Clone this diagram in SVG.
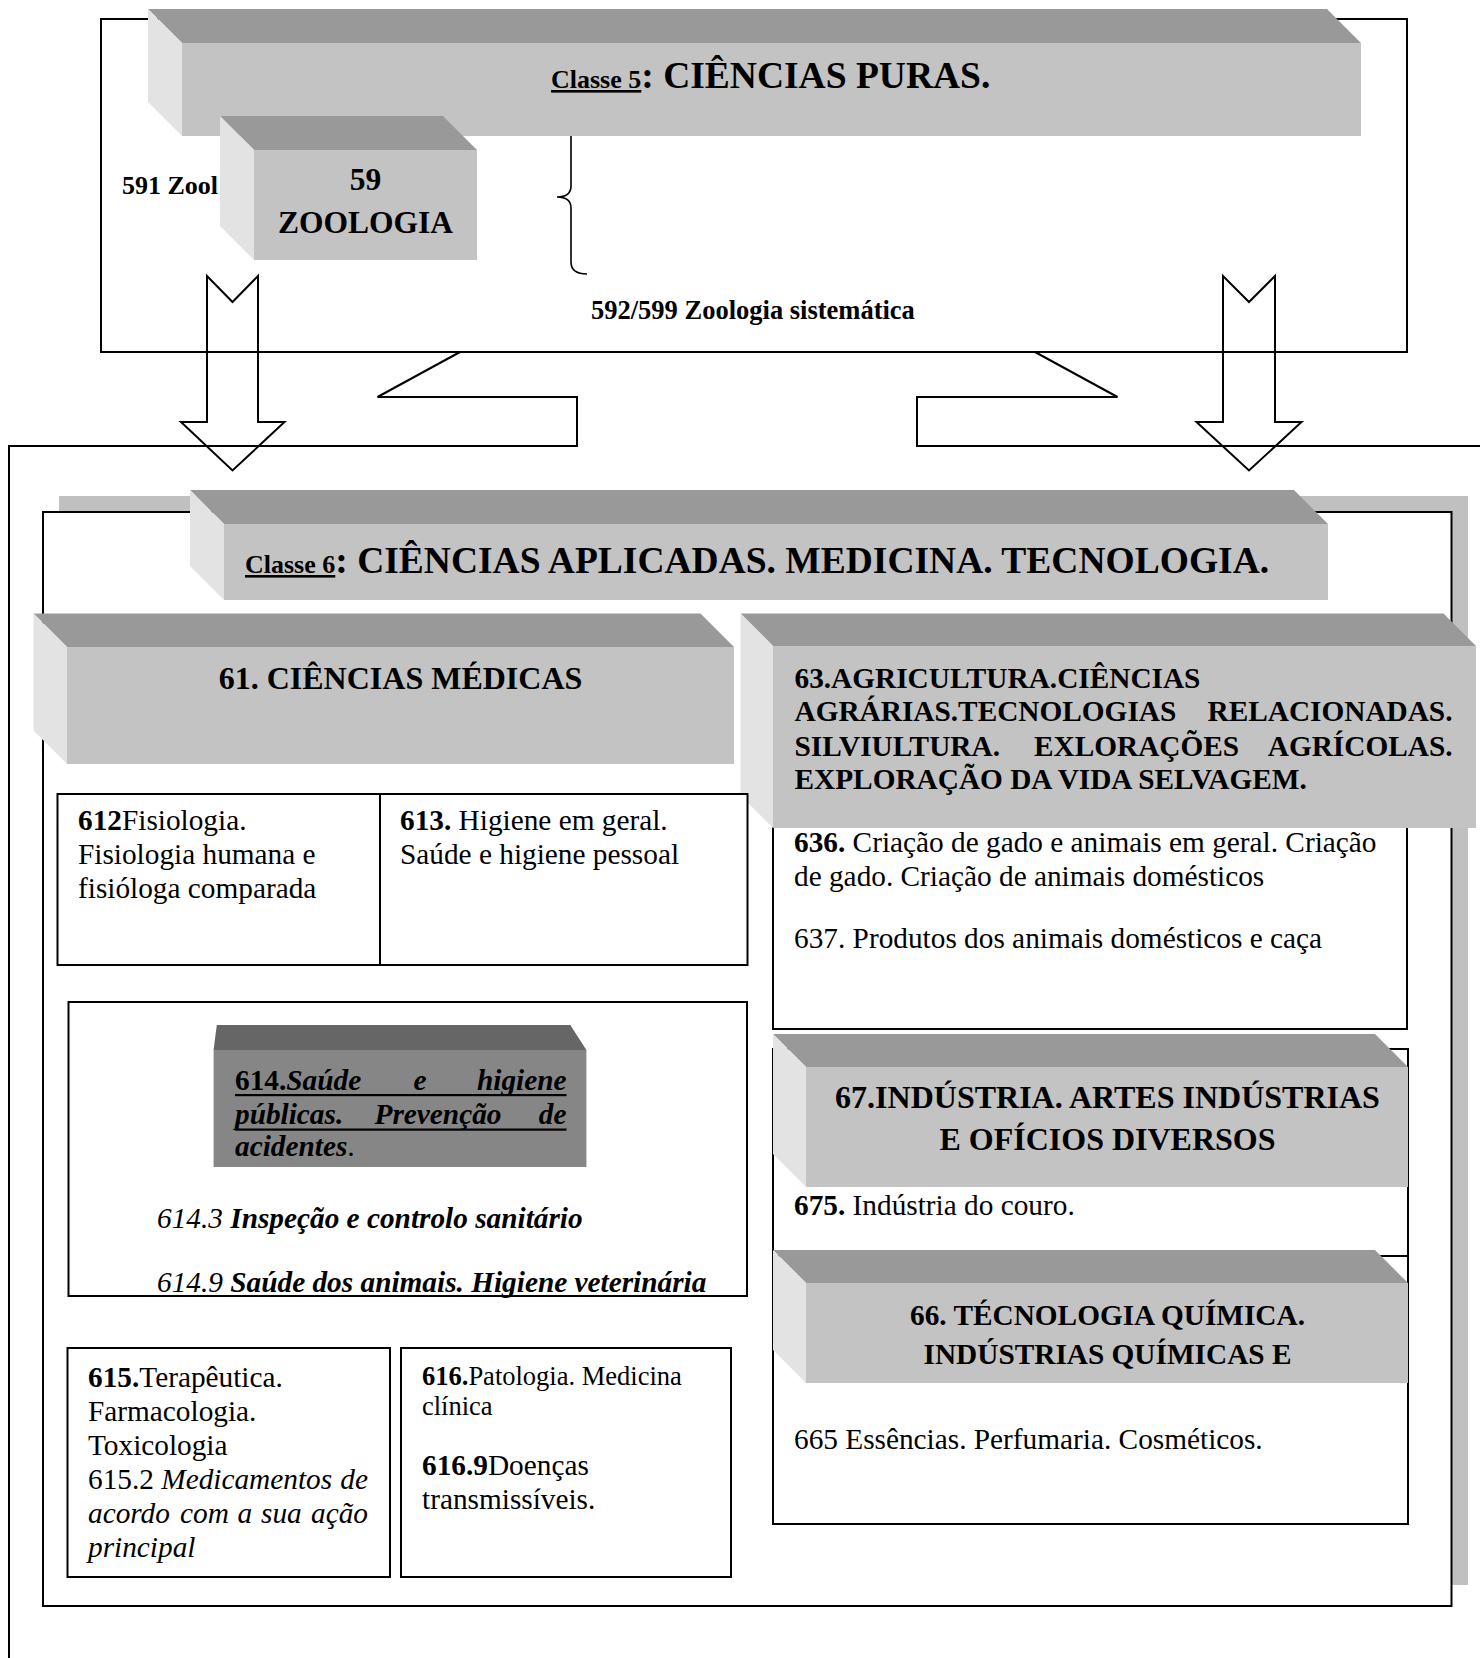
<svg xmlns="http://www.w3.org/2000/svg" width="1480" height="1658" viewBox="0 0 1480 1658">
<style>
  .ln{fill:none;stroke:#000;stroke-width:2}
  .box{fill:#fff;stroke:#000;stroke-width:2}
  .arrow{fill:none;stroke:#000;stroke-width:2;stroke-linejoin:miter}
  .top{fill:#999}
  .front{fill:#c3c3c3}
  .side{fill:#e3e3e3}
  .dtop{fill:#666}
  .dfront{fill:#868686}
  .shadow{fill:#c0c0c0}
  text{font-family:"Liberation Serif","Times New Roman",serif;fill:#000}
  .b{font-weight:bold}
  .i{font-style:italic}
  .n{font-weight:normal}
  .up{font-style:normal}
  .u{text-decoration:underline}
  .s26{font-size:26px}
  .s29{font-size:29.3px}
  .s32{font-size:32px}
  .s37{font-size:37.5px}
  .s31{font-size:31.5px}
  .s265{font-size:26.5px}
</style>

<!-- outer frame of class 6 and the bent links into the class 5 frame -->
<g id="connectors">
  <path class="ln" d="M9,1660 V446 H577 V397 H377.5 L460,352"/>
  <path class="ln" d="M1035,352 L1117.5,397 H917 V446 H1482"/>
  <polygon class="arrow" points="207,276 232.5,302 258,276 258,422 284.5,422 232.5,470.5 181,422 207,422"/>
  <polygon class="arrow" points="1223,276 1249,302 1275,276 1275,422 1301.5,422 1249,470.5 1196.5,422 1223,422"/>
</g>

<!-- class 5 frame -->
<g id="classe5-frame">
  <rect class="ln" x="101" y="19" width="1306" height="333"/>
  <path fill="none" stroke="#000" stroke-width="1.6" d="M587,118 C576,118 571,124 571,134 L571,186 C571,193 566,197 557,197 C566,197 571,201 571,208 L571,262 C571,270 576,274 587,274"/>
</g>

<g id="classe5">
  <polygon class="top" points="148,9 1327,9 1361,43 182,43"/>
  <polygon class="side" points="148,9 182,43 182,136 148,102"/>
  <rect class="front" x="182" y="43" width="1179" height="93"/>
  <text x="551" y="88" class="b"><tspan class="s26 u">Classe 5</tspan><tspan class="s37">: CIÊNCIAS PURAS.</tspan></text>
</g>

<g id="zoologia">
  <polygon class="top" points="220,116 443,116 477,150 254,150"/>
  <polygon class="side" points="220,116 254,150 254,260 220,226"/>
  <rect class="front" x="254" y="150" width="223" height="110"/>
  <text x="365.5" y="190" text-anchor="middle" class="b s31">59</text>
  <text x="365.5" y="233" text-anchor="middle" class="b s31">ZOOLOGIA</text>
</g>

<g id="z591">
  <text x="122" y="194" class="b s26">591 Zool</text>
</g>
<g id="z592">
  <text x="591" y="319" class="b s265">592/599 Zoologia sistemática</text>
</g>

<!-- class 6 panel with its offset shadow -->
<g id="classe6-frame">
  <rect class="shadow" x="59" y="496" width="1409" height="1089"/>
  <rect class="box" x="43" y="512" width="1408.5" height="1094"/>
</g>

<g id="classe6">
  <polygon class="top" points="190,490 1294,490 1328,524 224,524"/>
  <polygon class="side" points="190,490 224,524 224,600 190,566"/>
  <rect class="front" x="224" y="524" width="1104" height="76"/>
  <text x="245" y="573" class="b"><tspan class="s26 u">Classe 6</tspan><tspan class="s37">: CIÊNCIAS APLICADAS. MEDICINA. TECNOLOGIA.</tspan></text>
</g>

<g id="n61">
  <polygon class="top" points="33.5,613.5 700.5,613.5 734,647 67,647"/>
  <polygon class="side" points="33.5,613.5 67,647 67,764 33.5,730.5"/>
  <rect class="front" x="67" y="647" width="667" height="117"/>
  <text x="400.5" y="689" text-anchor="middle" class="b s32">61. CIÊNCIAS MÉDICAS</text>
</g>

<g id="n636">
  <rect class="box" x="773" y="800" width="634" height="229"/>
  <text x="794" y="852" class="s29"><tspan class="b">636.</tspan> Criação de gado e animais em geral. Criação</text>
  <text x="794" y="886" class="s29">de gado. Criação de animais domésticos</text>
  <text x="794" y="948" class="s29">637. Produtos dos animais domésticos e caça</text>
</g>

<g id="n63">
  <polygon class="top" points="740.5,613.5 1443.5,613.5 1476,646 773,646"/>
  <polygon class="side" points="740.5,613.5 773,646 773,828 740.5,795.5"/>
  <rect class="front" x="773" y="646" width="703" height="182"/>
  <text x="794.5" y="688" class="b s29">63.AGRICULTURA.CIÊNCIAS</text>
  <text x="794.5" y="721" class="b s29">AGRÁRIAS.TECNOLOGIAS</text>
  <text x="1452.5" y="721" text-anchor="end" class="b s29">RELACIONADAS.</text>
  <text x="794.5" y="756" class="b s29">SILVIULTURA.</text>
  <text x="1034" y="756" class="b s29">EXLORAÇÕES</text>
  <text x="1452.5" y="756" text-anchor="end" class="b s29">AGRÍCOLAS.</text>
  <text x="794.5" y="789" class="b s29">EXPLORAÇÃO DA VIDA SELVAGEM.</text>
</g>

<g id="n612-613">
  <rect class="box" x="57.5" y="794" width="690" height="171"/>
  <line class="ln" x1="380" y1="794" x2="380" y2="965"/>
  <text x="78" y="830" class="s29"><tspan class="b">612</tspan>Fisiologia.</text>
  <text x="78" y="864" class="s29">Fisiologia humana e</text>
  <text x="78" y="898" class="s29">fisióloga comparada</text>
  <text x="400" y="830" class="s29"><tspan class="b">613.</tspan> Higiene em geral.</text>
  <text x="400" y="864" class="s29">Saúde e higiene pessoal</text>
</g>

<g id="n614">
  <rect class="box" x="68.5" y="1002" width="678.5" height="294"/>
  <polygon class="dtop" points="216.8,1025 570.3,1025 586.4,1050 213.6,1050"/>
  <rect class="dfront" x="213.6" y="1050" width="372.8" height="117"/>
  <text x="235" y="1090" class="s29 b"><tspan>614.</tspan><tspan class="i">Saúde</tspan></text>
  <text x="420" y="1090" text-anchor="middle" class="s29 b i">e</text>
  <text x="566.5" y="1090" text-anchor="end" class="s29 b i">higiene</text>
  <text x="235" y="1124" class="s29 b i">públicas.</text>
  <text x="438" y="1124" text-anchor="middle" class="s29 b i">Prevenção</text>
  <text x="566.5" y="1124" text-anchor="end" class="s29 b i">de</text>
  <rect x="235" y="1094" width="331.5" height="2.2" fill="#000"/>
  <rect x="235" y="1128.5" width="331.5" height="2.2" fill="#000"/>
  <text x="235" y="1156" class="s29 b i">acidentes<tspan class="n up">.</tspan></text>
  <text x="157" y="1228" class="s29 i">614.3 <tspan class="b">Inspeção e controlo sanitário</tspan></text>
  <text x="157" y="1292" class="s29 i">614.9 <tspan class="b">Saúde dos animais. Higiene veterinária</tspan></text>
</g>

<g id="n615">
  <rect class="box" x="67.5" y="1348" width="322.5" height="229"/>
  <text x="88" y="1387" class="s29"><tspan class="b">615.</tspan>Terapêutica.</text>
  <text x="88" y="1421" class="s29">Farmacologia.</text>
  <text x="88" y="1455" class="s29">Toxicologia</text>
  <text x="88" y="1489" class="s29">615.2 <tspan class="i">Medicamentos</tspan></text>
  <text x="368" y="1489" text-anchor="end" class="s29 i">de</text>
  <text y="1523" class="s29 i"><tspan x="88">acordo</tspan><tspan x="180">com</tspan><tspan x="237.5">a</tspan><tspan x="261">sua</tspan></text>
  <text x="368" y="1523" text-anchor="end" class="s29 i">ação</text>
  <text x="88" y="1557" class="s29 i">principal</text>
</g>

<g id="n616">
  <rect class="box" x="401" y="1348" width="330" height="229"/>
  <text x="422" y="1385" class="s265"><tspan class="b">616.</tspan>Patologia. Medicina</text>
  <text x="422" y="1415" class="s265">clínica</text>
  <text x="422" y="1475" class="s29"><tspan class="b">616.9</tspan>Doenças</text>
  <text x="422" y="1509" class="s29">transmissíveis.</text>
</g>

<g id="n675">
  <rect class="box" x="773" y="1049" width="635" height="207"/>
  <text x="794" y="1215" class="s29"><tspan class="b">675.</tspan> Indústria do couro.</text>
</g>

<g id="n67">
  <polygon class="top" points="773,1034 1375,1034 1408,1067 806,1067"/>
  <polygon class="side" points="773,1034 806,1067 806,1187 773,1154"/>
  <rect class="front" x="806" y="1067" width="602" height="120"/>
  <text x="1107.5" y="1108" text-anchor="middle" class="b s32">67.INDÚSTRIA. ARTES INDÚSTRIAS</text>
  <text x="1107.5" y="1150" text-anchor="middle" class="b s32">E OFÍCIOS DIVERSOS</text>
</g>

<g id="n665">
  <rect class="box" x="773" y="1256" width="635" height="268"/>
  <text x="794" y="1449" class="s29">665 Essências. Perfumaria. Cosméticos.</text>
</g>

<g id="n66">
  <polygon class="top" points="773,1250 1375,1250 1408,1283 806,1283"/>
  <polygon class="side" points="773,1250 806,1283 806,1383 773,1350"/>
  <rect class="front" x="806" y="1283" width="602" height="100"/>
  <text x="1107.5" y="1325" text-anchor="middle" class="b s29">66. TÉCNOLOGIA QUÍMICA.</text>
  <text x="1107.5" y="1364" text-anchor="middle" class="b s29">INDÚSTRIAS QUÍMICAS E</text>
</g>
</svg>
